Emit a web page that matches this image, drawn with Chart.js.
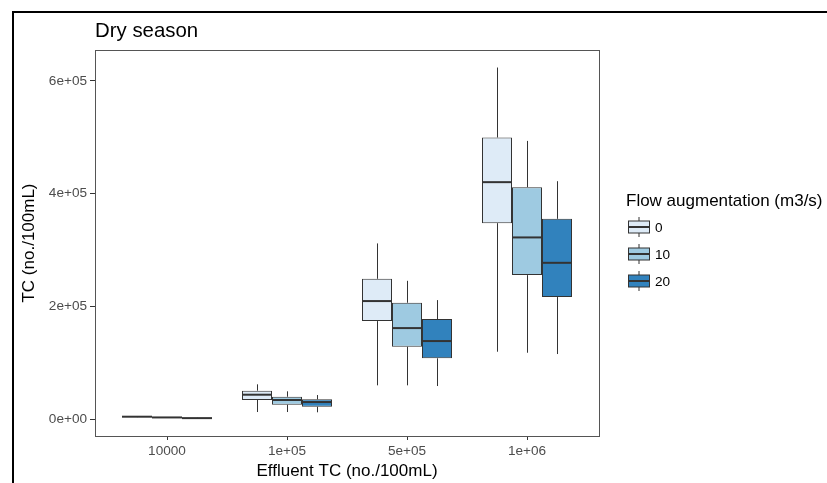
<!DOCTYPE html>
<html>
<head>
<meta charset="utf-8">
<script src="https://cdn.jsdelivr.net/npm/chart.js@4.4.0/dist/chart.umd.min.js"></script>
<style>
  html, body { margin: 0; padding: 0; background: #fff; overflow: hidden; }
  #frame { position: absolute; left: 12px; top: 11px; width: 900px; height: 600px; border: 2px solid #000; box-sizing: border-box; }
  #wrap { position: absolute; left: 0; top: 0; width: 827px; height: 483px; }
</style>
</head>
<body>
<div id="frame"></div>
<div id="wrap"><canvas id="chart" width="827" height="483"></canvas></div>
<script>
// categories on the x axis and the flow augmentation groups
const categories = ['10000', '1e+05', '5e+05', '1e+06'];
const flows = ['0', '10', '20'];
const fills = ['#DEEBF7', '#9ECAE1', '#3182BD'];

// boxplot statistics, one row per flow (0, 10, 20 m3/s)
const whiskerLow = [
    [3800, 12900, 60200, 119800],
    [2600, 12900, 60200, 118000],
    [1500, 12400, 59000, 115700]
];
const quart1 = [
    [4300, 34200, 174100, 347700],
    [3000, 25900, 128600, 255600],
    [1900, 22300, 108100, 216700]
];
const medians = [
    [4600, 43600, 209600, 420400],
    [3300, 34200, 161700, 322400],
    [2100, 30600, 138700, 277400]
];
const quart3 = [
    [4900, 50700, 249100, 499600],
    [3600, 40000, 206600, 411500],
    [2400, 35400, 177700, 355400]
];
const whiskerHigh = [
    [5400, 62000, 311800, 623600],
    [4000, 49600, 245500, 493500],
    [2700, 43000, 211300, 422100]
];

const yTicks = [0, 200000, 400000, 600000];
const yTickLabels = ['0e+00', '2e+05', '4e+05', '6e+05'];

// ggplot style 5% expansion of the data range
const dataMin = Math.min(...whiskerLow.flat());
const dataMax = Math.max(...whiskerHigh.flat());
const expand = (dataMax - dataMin) * 0.05;

const FONT = "'Liberation Sans', Arial, sans-serif";
const LINE = '#333333';

const datasets = flows.map((f, s) => ({
    label: f,
    data: categories.map((c, i) => ({ x: i + 1, y: [quart1[s][i], quart3[s][i]] })),
    backgroundColor: fills[s],
    borderColor: LINE,
    borderWidth: 1,
    borderSkipped: false,
    categoryPercentage: 0.75,
    barPercentage: 1
}));

const boxParts = {
    id: 'boxParts',
    beforeDatasetsDraw(chart) {
        const ctx = chart.ctx;
        const y = chart.scales.y;
        ctx.save();
        ctx.strokeStyle = LINE;
        ctx.lineWidth = 1;
        flows.forEach((f, s) => {
            chart.getDatasetMeta(s).data.forEach((bar, i) => {
                const x = Math.round(bar.x) + 0.5;
                ctx.beginPath();
                ctx.moveTo(x, y.getPixelForValue(whiskerHigh[s][i]));
                ctx.lineTo(x, y.getPixelForValue(quart3[s][i]));
                ctx.moveTo(x, y.getPixelForValue(quart1[s][i]));
                ctx.lineTo(x, y.getPixelForValue(whiskerLow[s][i]));
                ctx.stroke();
            });
        });
        ctx.restore();
    },
    afterDatasetsDraw(chart) {
        const ctx = chart.ctx;
        const y = chart.scales.y;
        const a = chart.chartArea;
        ctx.save();
        ctx.strokeStyle = LINE;
        ctx.lineWidth = 2;
        flows.forEach((f, s) => {
            chart.getDatasetMeta(s).data.forEach((bar, i) => {
                const py = y.getPixelForValue(medians[s][i]);
                ctx.beginPath();
                ctx.moveTo(bar.x - bar.width / 2, py);
                ctx.lineTo(bar.x + bar.width / 2, py);
                ctx.stroke();
            });
        });
        // panel border
        ctx.strokeStyle = '#555555';
        ctx.lineWidth = 1;
        ctx.strokeRect(Math.round(a.left) + 0.5, Math.round(a.top) + 0.5,
            Math.round(a.right - a.left), Math.round(a.bottom - a.top));

        // legend
        ctx.fillStyle = '#000';
        ctx.textBaseline = 'middle';
        ctx.textAlign = 'left';
        ctx.font = '17px ' + FONT;
        ctx.fillText('Flow augmentation (m3/s)', 626, 201);
        ctx.font = '13.6px ' + FONT;
        flows.forEach((f, s) => {
            const cy = 227 + s * 27;
            const x0 = 628.5, w = 21, h = 12;
            ctx.strokeStyle = LINE;
            ctx.lineWidth = 1;
            ctx.beginPath();
            ctx.moveTo(x0 + w / 2, cy - 10);
            ctx.lineTo(x0 + w / 2, cy + 10);
            ctx.stroke();
            ctx.fillStyle = fills[s];
            ctx.fillRect(x0, cy - h / 2, w, h);
            ctx.strokeRect(x0, cy - h / 2, w, h);
            ctx.lineWidth = 2;
            ctx.beginPath();
            ctx.moveTo(x0, cy);
            ctx.lineTo(x0 + w, cy);
            ctx.stroke();
            ctx.fillStyle = '#000';
            ctx.fillText(f, 655, cy + 1);
        });
        ctx.restore();
    }
};

new Chart(document.getElementById('chart'), {
    type: 'bar',
    data: { datasets },
    options: {
        responsive: false,
        animation: false,
        layout: { padding: { left: 0, right: 228, top: 0, bottom: 0 } },
        plugins: {
            legend: { display: false },
            tooltip: { enabled: false },
            title: {
                display: true,
                text: 'Dry season',
                align: 'start',
                fullSize: false,
                color: '#000',
                font: { family: FONT, size: 20.4, weight: 'normal' },
                padding: { top: 19, bottom: 6.5 }
            }
        },
        scales: {
            x: {
                type: 'linear',
                min: 0.4,
                max: 4.6,
                offset: false,
                afterBuildTicks: s => { s.ticks = categories.map((c, i) => ({ value: i + 1 })); },
                afterFit: s => { s.height = 47; },
                ticks: {
                    callback: v => categories[Math.round(v) - 1],
                    color: '#4d4d4d',
                    font: { family: FONT, size: 13.6 },
                    padding: 3,
                    autoSkip: false,
                    maxRotation: 0
                },
                grid: { offset: false, drawOnChartArea: false, tickLength: 4, tickColor: LINE, tickWidth: 1 },
                border: { display: false },
                title: {
                    display: true,
                    text: 'Effluent TC (no./100mL)',
                    color: '#000',
                    font: { family: FONT, size: 17 },
                    padding: { top: 0, bottom: 1 }
                }
            },
            y: {
                type: 'linear',
                min: dataMin - expand,
                max: dataMax + expand,
                afterBuildTicks: s => { s.ticks = yTicks.map(v => ({ value: v })); },
                afterFit: s => { s.width = 95; },
                ticks: {
                    callback: v => yTickLabels[yTicks.indexOf(v)],
                    color: '#4d4d4d',
                    font: { family: FONT, size: 13.6 },
                    padding: 3
                },
                grid: { drawOnChartArea: false, tickLength: 5, tickColor: LINE, tickWidth: 1 },
                border: { display: false },
                title: {
                    display: true,
                    text: 'TC (no./100mL)',
                    color: '#000',
                    font: { family: FONT, size: 17 },
                    padding: { top: 19, bottom: 0 }
                }
            }
        }
    },
    plugins: [boxParts]
});
</script>
</body>
</html>
